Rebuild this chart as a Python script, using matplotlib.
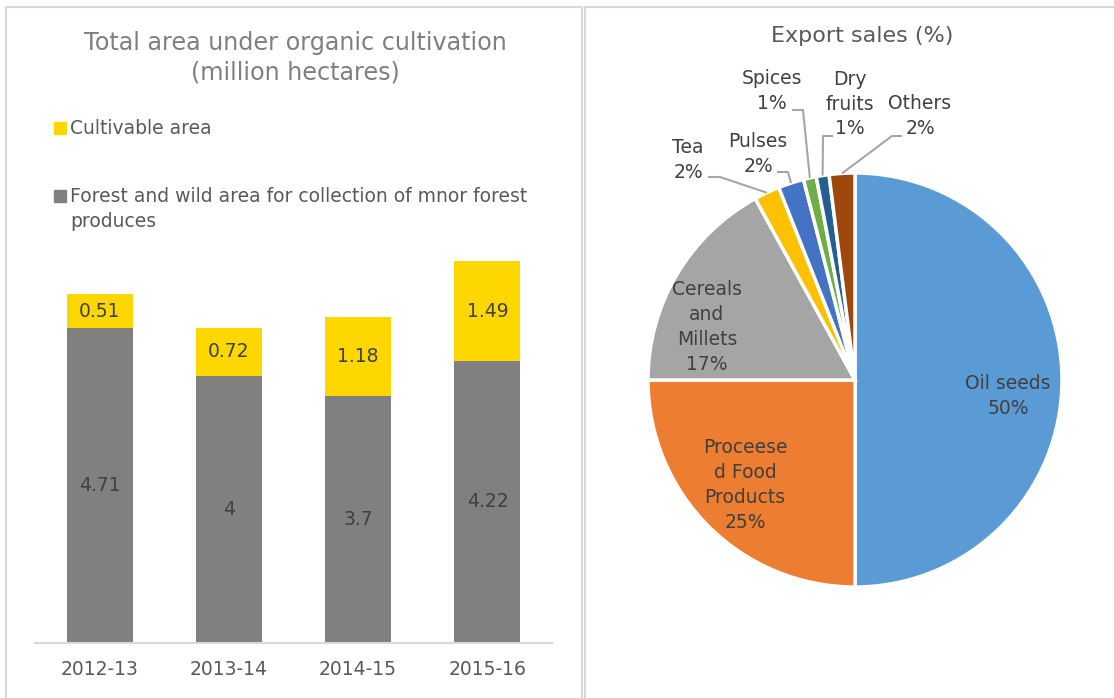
import matplotlib
matplotlib.use("Agg")
import numpy as np
import matplotlib.pyplot as plt
from matplotlib.patches import Rectangle
from matplotlib.lines import Line2D

# left chart data
years = ["2012-13", "2013-14", "2014-15", "2015-16"]
forest = [4.71, 4, 3.7, 4.22]
cultivable = [0.51, 0.72, 1.18, 1.49]

# right chart data
products = ["Oil seeds", "Proceese\nd Food\nProducts", "Cereals\nand\nMillets",
            "Tea", "Pulses", "Spices", "Dry\nfruits", "Others"]
shares = [50, 25, 17, 2, 2, 1, 1, 2]
pie_colors = ["#5B9BD5", "#ED7D31", "#A5A5A5", "#FFC000",
              "#4472C4", "#70AD47", "#255E91", "#9E480E"]

W, H = 1114, 698
fig = plt.figure(figsize=(W / 100, H / 100), dpi=100)


def fx(p):
    return p / W


def fy(p):
    return 1 - p / H


# panel borders
border = "#d9d9d9"
for xs, ys in [([6, 6], [7, 700]), ([6, 582], [7, 7]), ([582, 582], [7, 700]),
               ([585, 585], [7, 700]), ([585, 1114], [7, 7])]:
    fig.add_artist(Line2D([fx(v) for v in xs], [fy(v) for v in ys],
                          color=border, lw=1.5, transform=fig.transFigure))

# ---- stacked bars ----
ax = fig.add_axes([fx(35), fy(643), (552 - 35) / W, 401 / H])
x = np.arange(len(years))
b1 = ax.bar(x, forest, 0.51, color="#808080")
b2 = ax.bar(x, cultivable, 0.51, bottom=forest, color="#FFD700")
ax.bar_label(b1, label_type="center", fmt="%g", color="#404040", fontsize=13.5)
ax.bar_label(b2, label_type="center", fmt="%g", color="#404040", fontsize=13.5)
ax.set_xlim(-0.5, 3.5)
ax.set_ylim(0, 6)
ax.set_xticks(x, years)
ax.set_yticks([])
ax.tick_params(axis="x", length=0, pad=12, labelsize=13.5, labelcolor="#595959")
for s in ["left", "right", "top"]:
    ax.spines[s].set_visible(False)
ax.spines["bottom"].set_color(border)
ax.spines["bottom"].set_linewidth(1.5)

fig.text(fx(295), fy(58), "Total area under organic cultivation\n(million hectares)",
         ha="center", va="center", fontsize=17.2, color="#7f7f7f", linespacing=1.3)

# legend drawn by hand
leg = [("Cultivable area", "#FFD700", 128, 128),
       ("Forest and wild area for collection of mnor forest\nproduces", "#808080", 196, 209)]
for label, col, sq_y, txt_y in leg:
    fig.add_artist(Rectangle((fx(54), fy(sq_y + 6)), 12 / W, 12 / H, color=col,
                             transform=fig.transFigure))
    fig.text(fx(70), fy(txt_y), label, ha="left", va="center",
             fontsize=13.5, color="#595959", linespacing=1.4)

# ---- pie ----
cx, cy, r = 855, 380, 207
pax = fig.add_axes([fx(590), fy(690), 520 / W, 670 / H])
wedges, _ = pax.pie(shares, colors=pie_colors, startangle=90, counterclock=False,
                    wedgeprops=dict(edgecolor="white", linewidth=2.5))
pax.set_xlim((590 - cx) / r, (1110 - cx) / r)
pax.set_ylim((cy - 690) / r, (cy - 20) / r)
pax.set_aspect("auto")
pax.axis("off")


def pd(px, py):
    return (px - cx) / r, (cy - py) / r


label_pos = [(1008, 396), (745, 485), (707, 327), (688, 160),
             (758, 154), (772, 91), (850, 104), (920, 116)]
for name, val, pos in zip(products, shares, label_pos):
    pax.text(*pd(*pos), f"{name}\n{val}%", ha="center", va="center",
             fontsize=13.5, color="#404040", linespacing=1.38)

# leader lines for the small slices: label end, elbow, wedge edge
leaders = {3: [(708, 177), (720, 177)],
           4: [(777, 172), (788, 172)],
           5: [(792, 110), (803, 110)],
           6: [(833, 136), (823, 136)],
           7: [(902, 136), (892, 136)]}
for i, pts in leaders.items():
    w = wedges[i]
    mid = np.deg2rad((w.theta1 + w.theta2) / 2)
    xs = [pd(*p)[0] for p in pts] + [np.cos(mid)]
    ys = [pd(*p)[1] for p in pts] + [np.sin(mid)]
    pax.plot(xs, ys, color="#a6a6a6", lw=1.5, solid_capstyle="butt")

fig.text(fx(862), fy(36), "Export sales (%)", ha="center", va="center",
         fontsize=16, color="#595959")

fig.savefig("out.png", dpi=100)
